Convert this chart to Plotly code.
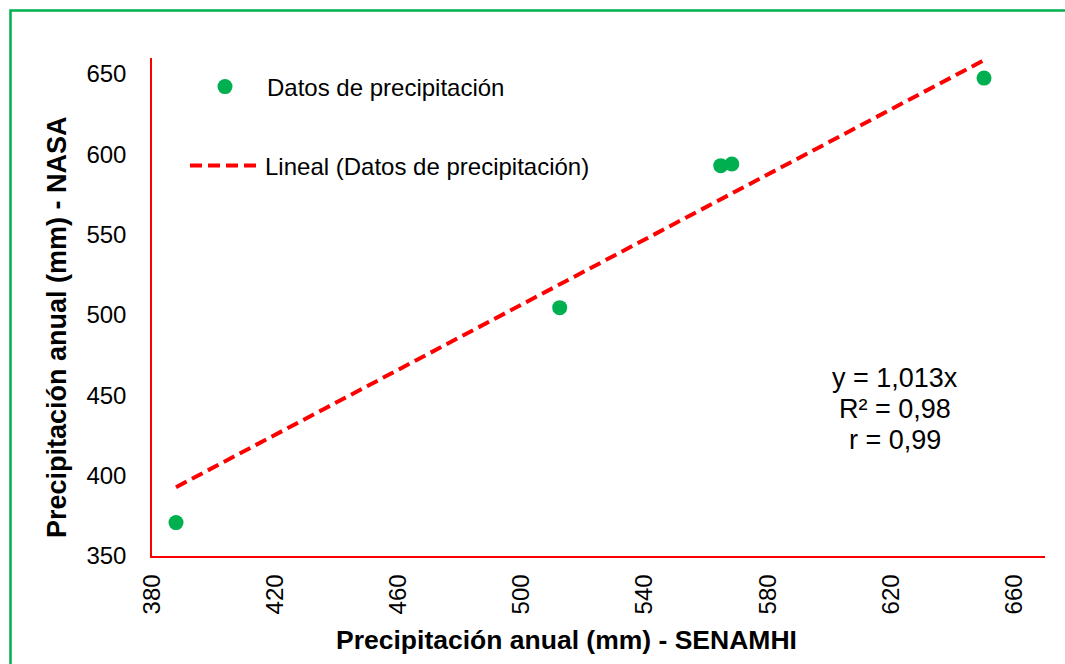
import plotly.graph_objects as go

# Data
senamhi = [387.8, 512.4, 564.7, 568.3, 650.2]
nasa = [370.8, 504.6, 593.0, 594.0, 647.5]
slope = 1.013
eq_lines = ["y = 1,013x", "R² = 0,98", "r = 0,99"]
x_ticks = [380, 420, 460, 500, 540, 580, 620, 660]
y_ticks = [350, 400, 450, 500, 550, 600, 650]
x_title = "<b>Precipitación anual (mm) - SENAMHI</b>"
y_title = "<b>Precipitación anual (mm) - NASA</b>"

FONT = "Liberation Sans, Arial, sans-serif"
GREEN = "#00B050"
RED = "#FF0000"

W, H = 1065, 664
L, R, T, B = 152, 20, 58, 108
PW, PH = W - L - R, H - T - B

def px(xp):
    return (xp - L) / PW

def py(yp):
    return (H - B - yp) / PH

trend_x = [min(senamhi), max(senamhi)]
trend_y = [slope * v for v in trend_x]

fig = go.Figure()
fig.add_trace(go.Scatter(
    x=senamhi, y=nasa, mode="markers", name="Datos de precipitación",
    marker=dict(color=GREEN, size=15, line=dict(width=0)),
    legend="legend",
))
fig.add_trace(go.Scatter(
    x=trend_x, y=trend_y, mode="lines", name="Lineal (Datos de precipitación)",
    line=dict(color=RED, width=4, dash="12px,6px"),
    legend="legend2",
))

annos = []
for i, t in enumerate(eq_lines):
    annos.append(dict(
        text=t, x=px(895), y=py(378 + 31 * i), xref="paper", yref="paper",
        xanchor="center", yanchor="middle", showarrow=False,
        font=dict(family=FONT, size=27, color="black"),
    ))
annos.append(dict(
    text=x_title, x=px(566), y=py(640), xref="paper", yref="paper",
    xanchor="center", yanchor="middle", showarrow=False,
    font=dict(family=FONT, size=26.5, color="black"),
))
annos.append(dict(
    text=y_title, x=px(57), y=py(327), xref="paper", yref="paper",
    xanchor="center", yanchor="middle", showarrow=False, textangle=-90,
    font=dict(family=FONT, size=27, color="black"),
))

fig.update_layout(
    width=W, height=H,
    margin=dict(l=L, r=R, t=T, b=B),
    paper_bgcolor="white", plot_bgcolor="white",
    font=dict(family=FONT, size=24, color="black"),
    xaxis=dict(
        range=[380, 670], tickvals=x_ticks, tickangle=-90,
        showgrid=False, zeroline=False,
        showline=True, linecolor=RED, linewidth=1.5,
        ticks="", ticklabelstandoff=7,
        tickfont=dict(family=FONT, size=24, color="black"),
    ),
    yaxis=dict(
        range=[350, 660], tickvals=y_ticks,
        showgrid=False, zeroline=False,
        showline=True, linecolor=RED, linewidth=1.5,
        ticks="", ticklabelstandoff=19,
        tickfont=dict(family=FONT, size=24, color="black"),
    ),
    legend=dict(
        x=px(183), y=py(87), xanchor="left", yanchor="middle",
        bgcolor="rgba(0,0,0,0)", borderwidth=0, itemwidth=74,
        font=dict(family=FONT, size=24, color="black"),
    ),
    legend2=dict(
        x=px(185), y=py(166), xanchor="left", yanchor="middle",
        bgcolor="rgba(0,0,0,0)", borderwidth=0, itemwidth=70,
        font=dict(family=FONT, size=24, color="black"),
    ),
    showlegend=True,
    annotations=annos,
    shapes=[dict(
        type="rect", xref="paper", yref="paper",
        x0=px(10.5), x1=px(1075), y0=py(700), y1=py(10.5),
        line=dict(color=GREEN, width=2.5), fillcolor="rgba(0,0,0,0)",
        layer="below",
    )],
)

fig.write_html("out.html")
